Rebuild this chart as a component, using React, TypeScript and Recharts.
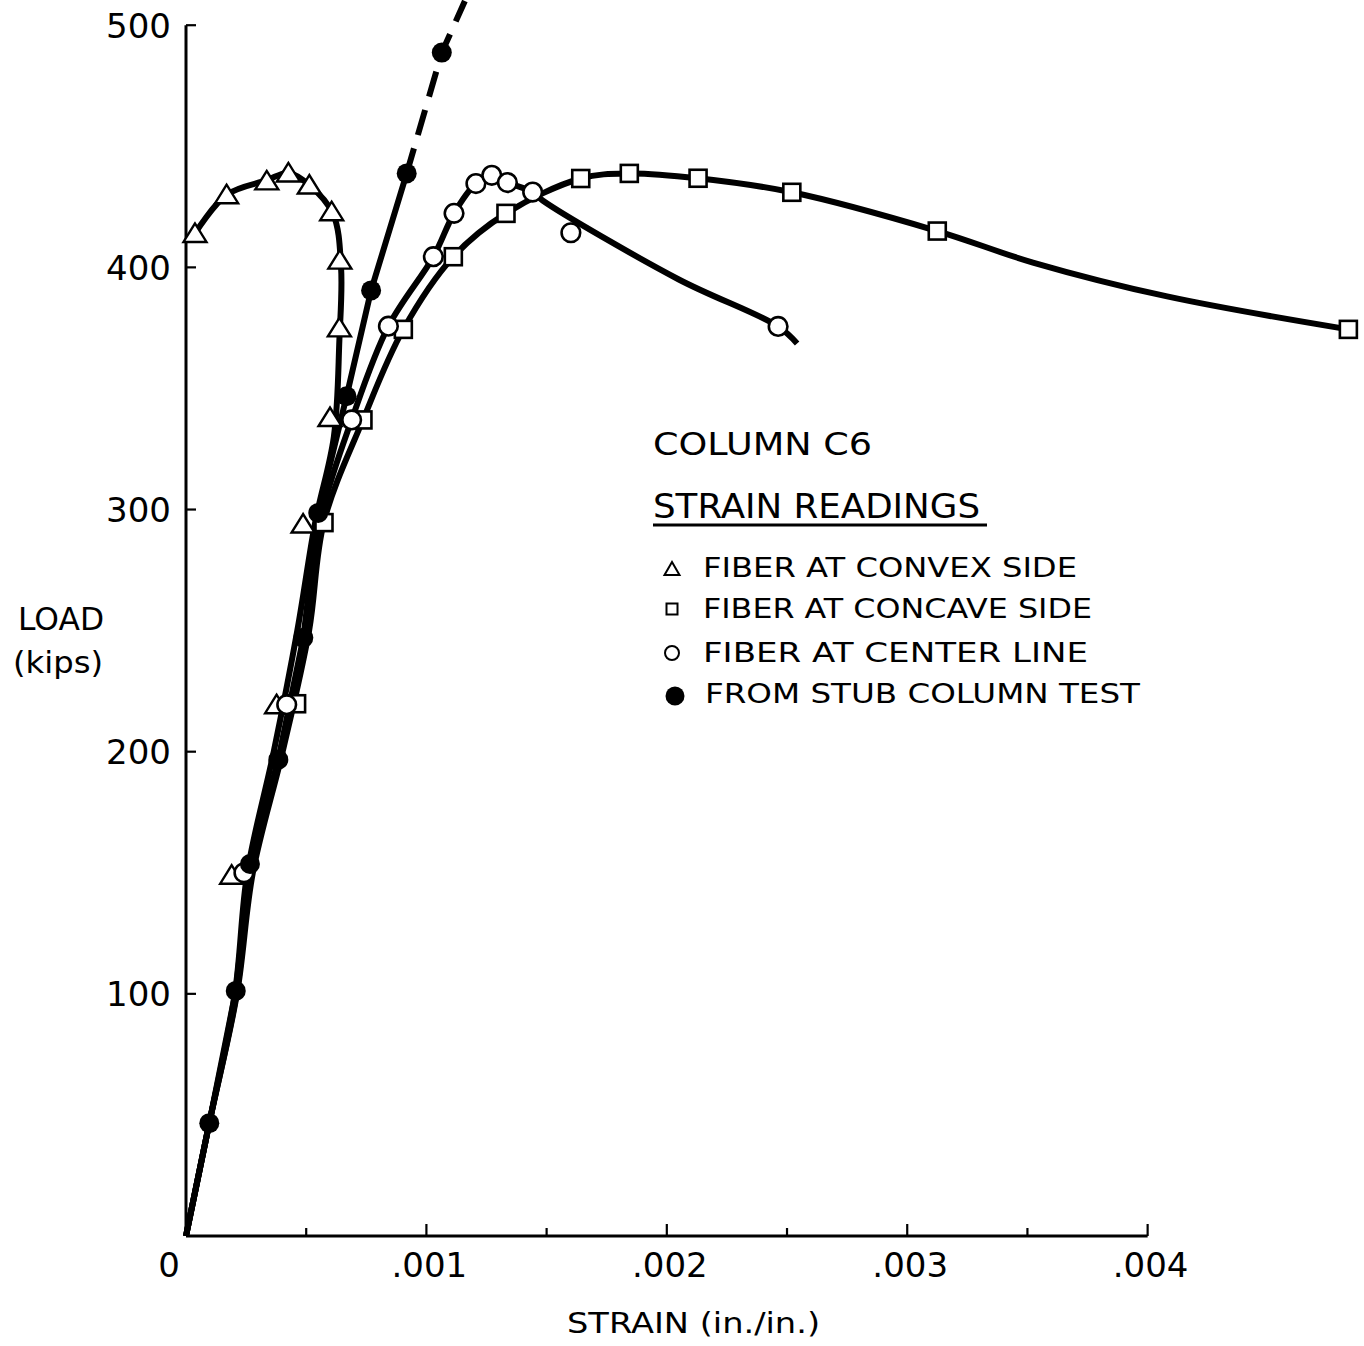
import React from 'react';
import { ComposedChart, Line, Scatter, XAxis, YAxis, ReferenceLine } from 'recharts';

// ---------- data (strain in./in., load kips) ----------
const convexMarkers = [
  { x: 0.00019, y: 149 }, { x: 0.000377, y: 219.4 }, { x: 0.000487, y: 294 },
  { x: 0.000599, y: 338 }, { x: 0.000638, y: 375 }, { x: 0.00064, y: 403 },
  { x: 0.000606, y: 423 }, { x: 0.000513, y: 434 }, { x: 0.000426, y: 439 },
  { x: 0.000336, y: 435.7 }, { x: 0.000169, y: 430 }, { x: 0.0000374, y: 414 },
];
const concaveMarkers = [
  { x: 0.00046, y: 219.8 }, { x: 0.000574, y: 294.6 }, { x: 0.000736, y: 337 },
  { x: 0.000904, y: 374.4 }, { x: 0.001112, y: 404.4 }, { x: 0.001331, y: 422.3 },
  { x: 0.001642, y: 436.7 }, { x: 0.001844, y: 438.8 }, { x: 0.00213, y: 436.8 },
  { x: 0.00252, y: 431 }, { x: 0.003125, y: 415 }, { x: 0.004835, y: 374.4 },
];
const centerMarkers = [
  { x: 0.000241, y: 150 }, { x: 0.000419, y: 219.4 }, { x: 0.000689, y: 337 },
  { x: 0.000842, y: 375.7 }, { x: 0.001029, y: 404.4 }, { x: 0.001115, y: 422.3 },
  { x: 0.001206, y: 434.6 }, { x: 0.001272, y: 438 }, { x: 0.001337, y: 435 },
  { x: 0.001442, y: 431.1 }, { x: 0.001601, y: 414.3 }, { x: 0.002463, y: 375.6 },
];
const stubMarkers = [
  { x: 0.0000969, y: 46.6 }, { x: 0.000207, y: 101.2 }, { x: 0.000266, y: 153.6 },
  { x: 0.000384, y: 196.7 }, { x: 0.000488, y: 247 }, { x: 0.00055, y: 298.6 },
  { x: 0.000668, y: 346.8 }, { x: 0.00077, y: 390.5 }, { x: 0.000918, y: 438.8 },
  { x: 0.001064, y: 488.7 },
];

// curves as drawn through the readings
const convexCurve = [
  { x: 0, y: 0 }, { x: 0.0000969, y: 46.6 }, { x: 0.000203, y: 100 }, { x: 0.000255, y: 150 },
  { x: 0.000365, y: 200 }, { x: 0.000463, y: 250 }, { x: 0.000538, y: 295 }, { x: 0.000615, y: 330 },
  { x: 0.000638, y: 370 }, { x: 0.000645, y: 400 }, { x: 0.000612, y: 422 }, { x: 0.000513, y: 434 },
  { x: 0.000426, y: 439 }, { x: 0.000336, y: 436 }, { x: 0.000169, y: 430 }, { x: 0.000037, y: 414 },
];
const centerCurve = [
  { x: 0, y: 0 }, { x: 0.0000969, y: 46.6 }, { x: 0.00021, y: 100 }, { x: 0.000272, y: 150 },
  { x: 0.000392, y: 200 }, { x: 0.000497, y: 250 }, { x: 0.000565, y: 298 }, { x: 0.000689, y: 337 },
  { x: 0.000842, y: 375.7 }, { x: 0.001029, y: 404.4 }, { x: 0.001115, y: 422.3 }, { x: 0.001206, y: 434.6 },
  { x: 0.001272, y: 438 }, { x: 0.001337, y: 435 }, { x: 0.001442, y: 431.1 }, { x: 0.001485, y: 427.5 },
  { x: 0.00205, y: 395 }, { x: 0.002463, y: 375.6 }, { x: 0.002542, y: 368.6 },
];
const concaveCurve = [
  { x: 0, y: 0 }, { x: 0.0000969, y: 46.6 }, { x: 0.000212, y: 100 }, { x: 0.000278, y: 150 },
  { x: 0.000402, y: 200 }, { x: 0.000512, y: 250 }, { x: 0.000574, y: 295 }, { x: 0.000736, y: 337 },
  { x: 0.000904, y: 374.4 }, { x: 0.001112, y: 404.4 }, { x: 0.001331, y: 422.3 }, { x: 0.001642, y: 436.7 },
  { x: 0.001844, y: 438.8 }, { x: 0.00213, y: 436.8 }, { x: 0.00252, y: 431 }, { x: 0.003125, y: 415 },
  { x: 0.003523, y: 402 }, { x: 0.004081, y: 388 }, { x: 0.004835, y: 374.4 },
];
const stubSolid = [
  { x: 0, y: 0 }, { x: 0.0000969, y: 46.6 }, { x: 0.000207, y: 101.2 }, { x: 0.000266, y: 153.6 },
  { x: 0.000384, y: 196.7 }, { x: 0.000488, y: 247 }, { x: 0.00055, y: 298.6 },
  { x: 0.000668, y: 346.8 }, { x: 0.00077, y: 390.5 }, { x: 0.000918, y: 438.8 },
];
const stubDashed = [
  { x: 0.000918, y: 438.8 }, { x: 0.001064, y: 488.7 }, { x: 0.00116, y: 510 },
];

const xTicks = [0, 0.0005, 0.001, 0.0015, 0.002, 0.0025, 0.003, 0.0035, 0.004];
const xTickLabels: Record<string, string> = { '0': '0', '0.001': '.001', '0.002': '.002', '0.003': '.003', '0.004': '.004' };
const yTicks = [100, 200, 300, 400, 500];
const xAxisEnd = 0.004;
const yAxisEnd = 500;

const legendItems = [
  { kind: 'tri', label: 'FIBER AT CONVEX SIDE' },
  { kind: 'sq', label: 'FIBER AT CONCAVE SIDE' },
  { kind: 'circ', label: 'FIBER AT CENTER LINE' },
  { kind: 'dot', label: 'FROM STUB COLUMN TEST' },
];

const FONT = 'DejaVu Sans';
const LW = 6;

// ---------- centripetal Catmull-Rom curve factory ----------
const catmullRom = (context: any) => {
  let pts: number[][] = [];
  return {
    areaStart() {},
    areaEnd() {},
    lineStart() { pts = []; },
    point(x: number, y: number) { pts.push([+x, +y]); },
    lineEnd() {
      const n = pts.length;
      if (!n) return;
      context.moveTo(pts[0][0], pts[0][1]);
      if (n === 1) return;
      if (n === 2) { context.lineTo(pts[1][0], pts[1][1]); return; }
      const d = (a: number[], b: number[]) => Math.hypot(b[0] - a[0], b[1] - a[1]);
      for (let i = 0; i < n - 1; i++) {
        const p0 = pts[i === 0 ? 0 : i - 1];
        const p1 = pts[i];
        const p2 = pts[i + 1];
        const p3 = pts[i + 2 < n ? i + 2 : n - 1];
        const l01 = d(p0, p1), l12 = d(p1, p2), l23 = d(p2, p3);
        const a01 = Math.sqrt(l01), a12 = Math.sqrt(l12), a23 = Math.sqrt(l23);
        let c1x = p1[0], c1y = p1[1], c2x = p2[0], c2y = p2[1];
        if (a01 > 1e-6) {
          const A = 2 * l01 + 3 * a01 * a12 + l12;
          const N = 3 * a01 * (a01 + a12);
          c1x = (p1[0] * A - p0[0] * l12 + p2[0] * l01) / N;
          c1y = (p1[1] * A - p0[1] * l12 + p2[1] * l01) / N;
        }
        if (a23 > 1e-6) {
          const B = 2 * l23 + 3 * a23 * a12 + l12;
          const M = 3 * a23 * (a23 + a12);
          c2x = (p2[0] * B + p1[0] * l23 - p3[0] * l12) / M;
          c2y = (p2[1] * B + p1[1] * l23 - p3[1] * l12) / M;
        }
        context.bezierCurveTo(c1x, c1y, c2x, c2y, p2[0], p2[1]);
      }
    },
  };
};

// ---------- marker shapes ----------
const TriShape = (p: any) => (
  <polygon
    points={`${p.cx},${p.cy - 10} ${p.cx - 11.5},${p.cy + 8.5} ${p.cx + 11.5},${p.cy + 8.5}`}
    fill="#fff" stroke="#000" strokeWidth={2.4} strokeLinejoin="miter"
  />
);
const SqShape = (p: any) => (
  <rect x={p.cx - 8.5} y={p.cy - 8.5} width={17} height={17} fill="#fff" stroke="#000" strokeWidth={2.6} />
);
const CircShape = (p: any) => <circle cx={p.cx} cy={p.cy} r={9.3} fill="#fff" stroke="#000" strokeWidth={2.6} />;
const DotShape = (p: any) => <circle cx={p.cx} cy={p.cy} r={10} fill="#000" />;

// ---------- axis ticks ----------
const XTick = (props: any) => {
  const { x, y, payload } = props;
  const v = payload.value as number;
  const isMajor = Math.abs(v * 1000 - Math.round(v * 1000)) < 1e-6;
  const key = String(Math.round(v * 10000) / 10000);
  const label = xTickLabels[key];
  return (
    <g>
      {v > 0 && <line x1={x} x2={x} y1={y} y2={y - (isMajor ? 12 : 8)} stroke="#000" strokeWidth={2.2} />}
      {label && (
        <text x={v === 0 ? x - 17 : x + 3} y={y + 41} textAnchor="middle" fontFamily={FONT} fontSize={34} fill="#000">
          {label}
        </text>
      )}
    </g>
  );
};
const YTick = (props: any) => {
  const { x, y, payload } = props;
  return (
    <g>
      <line x1={x} x2={x + 10} y1={y} y2={y} stroke="#000" strokeWidth={2.2} />
      <text x={x - 15} y={y + 12.5} textAnchor="end" fontFamily={FONT} fontSize={34} fill="#000">
        {payload.value}
      </text>
    </g>
  );
};

const LegendSymbol = ({ kind, cx, cy }: { kind: string; cx: number; cy: number }) => {
  if (kind === 'tri')
    return <polygon points={`${cx},${cy - 7} ${cx - 7.5},${cy + 6} ${cx + 7.5},${cy + 6}`} fill="#fff" stroke="#000" strokeWidth={2} />;
  if (kind === 'sq') return <rect x={cx - 5.5} y={cy - 5.5} width={11} height={11} fill="#fff" stroke="#000" strokeWidth={2} />;
  if (kind === 'circ') return <circle cx={cx} cy={cy} r={7} fill="#fff" stroke="#000" strokeWidth={2} />;
  return <circle cx={cx} cy={cy} r={9.5} fill="#000" />;
};

const legendRows = [
  { cy: 569, base: 577, x: 703, len: 374 },
  { cy: 609, base: 618, x: 703, len: 389 },
  { cy: 653, base: 662, x: 703, len: 385 },
  { cy: 696, base: 703, x: 705, len: 435 },
];

export default function App() {
  return (
    <div style={{ position: 'absolute', left: 0, top: 0, width: 1364, height: 1346, background: '#fff' }}>
      <ComposedChart width={1364} height={1346} margin={{ top: 1, right: 0, bottom: 50, left: 86 }}>
        <XAxis
          type="number" dataKey="x" domain={[0, 0.0049]} ticks={xTicks} interval={0}
          axisLine={false} tickLine={false} tickSize={0} tickMargin={0} height={60} tick={<XTick />}
        />
        <YAxis
          type="number" dataKey="y" domain={[0, 510]} ticks={yTicks} interval={0}
          axisLine={false} tickLine={false} tickSize={0} tickMargin={0} width={100} tick={<YTick />}
        />
        <ReferenceLine segment={[{ x: 0, y: 0 }, { x: 0, y: yAxisEnd }]} stroke="#000" strokeWidth={3} />
        <ReferenceLine segment={[{ x: 0, y: 0 }, { x: xAxisEnd, y: 0 }]} stroke="#000" strokeWidth={3} />

        <Line data={stubSolid} dataKey="y" type="linear" stroke="#000" strokeWidth={LW} dot={false} activeDot={false} isAnimationActive={false} />
        <Line data={stubDashed} dataKey="y" type="linear" stroke="#000" strokeWidth={LW} strokeDasharray="26 14" dot={false} activeDot={false} isAnimationActive={false} />
        <Line data={convexCurve} dataKey="y" type={catmullRom as any} stroke="#000" strokeWidth={LW} dot={false} activeDot={false} isAnimationActive={false} />
        <Line data={centerCurve} dataKey="y" type={catmullRom as any} stroke="#000" strokeWidth={LW} dot={false} activeDot={false} isAnimationActive={false} />
        <Line data={concaveCurve} dataKey="y" type={catmullRom as any} stroke="#000" strokeWidth={LW} dot={false} activeDot={false} isAnimationActive={false} />

        <Scatter data={convexMarkers} dataKey="y" shape={TriShape} isAnimationActive={false} />
        <Scatter data={concaveMarkers} dataKey="y" shape={SqShape} isAnimationActive={false} />
        <Scatter data={centerMarkers} dataKey="y" shape={CircShape} isAnimationActive={false} />
        <Scatter data={stubMarkers} dataKey="y" shape={DotShape} isAnimationActive={false} />
      </ComposedChart>

      <svg width={1364} height={1346} style={{ position: 'absolute', left: 0, top: 0, pointerEvents: 'none' }}>
        <g fontFamily={FONT} fill="#000">
          <text x={18} y={630} fontSize={32} textLength={86} lengthAdjust="spacingAndGlyphs">LOAD</text>
          <text x={13} y={673} fontSize={30} textLength={90} lengthAdjust="spacingAndGlyphs">(kips)</text>
          <text x={567} y={1333} fontSize={29} textLength={253} lengthAdjust="spacingAndGlyphs">STRAIN (in./in.)</text>

          <text x={653} y={455} fontSize={32} textLength={219} lengthAdjust="spacingAndGlyphs">COLUMN C6</text>
          <text x={653} y={518} fontSize={33} textLength={327} lengthAdjust="spacingAndGlyphs">STRAIN READINGS</text>
          <line x1={653} x2={987} y1={525} y2={525} stroke="#000" strokeWidth={3} />
          {legendItems.map((it, i) => (
            <g key={it.label}>
              <LegendSymbol kind={it.kind} cx={i === 3 ? 675 : 672} cy={legendRows[i].cy} />
              <text x={legendRows[i].x} y={legendRows[i].base} fontSize={27} textLength={legendRows[i].len} lengthAdjust="spacingAndGlyphs">
                {it.label}
              </text>
            </g>
          ))}
        </g>
      </svg>
    </div>
  );
}
